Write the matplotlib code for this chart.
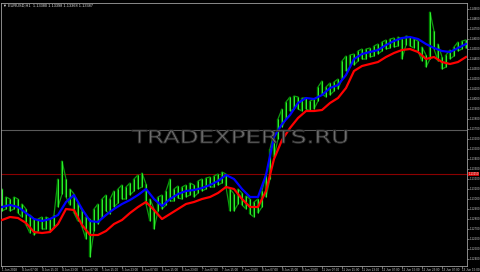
import numpy as np
import matplotlib
matplotlib.use('Agg')
from matplotlib import pyplot as plt
from matplotlib.textpath import TextPath
from matplotlib.font_manager import FontProperties
from matplotlib.patches import PathPatch
from matplotlib.transforms import Affine2D

'''Bar data (H1 bars, high / low)'''
high = [1.1310, 1.1302, 1.1300, 1.1302, 1.1300, 1.1295, 1.1290, 1.1284, 1.1280, 1.1280,
        1.1282, 1.1282, 1.1280, 1.1284, 1.1320, 1.1338, 1.1320, 1.1310, 1.1305, 1.1296,
        1.1288, 1.1282, 1.1280, 1.1290, 1.1295, 1.1300, 1.1304, 1.1300, 1.1308, 1.1310,
        1.1314, 1.1312, 1.1316, 1.1320, 1.1324, 1.1326, 1.1315, 1.1300, 1.1290, 1.1302,
        1.1304, 1.1308, 1.1320, 1.1310, 1.1313, 1.1312, 1.1314, 1.1316, 1.1314, 1.1318,
        1.1320, 1.1321, 1.1322, 1.1323, 1.1325, 1.1327, 1.1325, 1.1310, 1.1305, 1.1310,
        1.1306, 1.1303, 1.1300, 1.1297, 1.1300, 1.1308, 1.1325, 1.1350, 1.1367, 1.1380,
        1.1390, 1.1397, 1.1402, 1.1403, 1.1402, 1.1401, 1.1401, 1.1398, 1.1400, 1.1412,
        1.1418, 1.1412, 1.1416, 1.1417, 1.1420, 1.1438, 1.1443, 1.1444, 1.1445, 1.1448,
        1.1450, 1.1450, 1.1451, 1.1453, 1.1455, 1.1457, 1.1459, 1.1460, 1.1461, 1.1462,
        1.1460, 1.1463, 1.1462, 1.1460, 1.1458, 1.1452, 1.1444, 1.1487, 1.1468, 1.1455,
        1.1442, 1.1444, 1.1449, 1.1452, 1.1457, 1.1458, 1.1459]
low = [1.1288, 1.1290, 1.1288, 1.1290, 1.1286, 1.1282, 1.1274, 1.1266, 1.1264, 1.1268,
       1.1270, 1.1270, 1.1267, 1.1272, 1.1292, 1.1305, 1.1302, 1.1294, 1.1286, 1.1278,
       1.1272, 1.1260, 1.1242, 1.1268, 1.1275, 1.1282, 1.1288, 1.1285, 1.1292, 1.1296,
       1.1300, 1.1300, 1.1304, 1.1308, 1.1310, 1.1312, 1.1295, 1.1278, 1.1270, 1.1288,
       1.1290, 1.1294, 1.1298, 1.1298, 1.1301, 1.1300, 1.1302, 1.1304, 1.1302, 1.1306,
       1.1308, 1.1310, 1.1312, 1.1312, 1.1314, 1.1316, 1.1312, 1.1288, 1.1288, 1.1295,
       1.1294, 1.1290, 1.1285, 1.1282, 1.1286, 1.1292, 1.1302, 1.1320, 1.1342, 1.1360,
       1.1372, 1.1380, 1.1388, 1.1390, 1.1390, 1.1388, 1.1390, 1.1388, 1.1390, 1.1398,
       1.1405, 1.1402, 1.1404, 1.1408, 1.1410, 1.1420, 1.1428, 1.1432, 1.1434, 1.1438,
       1.1440, 1.1440, 1.1442, 1.1443, 1.1445, 1.1448, 1.1450, 1.1451, 1.1452, 1.1453,
       1.1440, 1.1454, 1.1453, 1.1451, 1.1448, 1.1438, 1.1432, 1.1440, 1.1450, 1.1438,
       1.1430, 1.1432, 1.1440, 1.1443, 1.1448, 1.1450, 1.1451]

'''Moving averages, read every 2nd bar'''
ma_fast = [1.1292, 1.1294, 1.1292, 1.1286, 1.1280, 1.1278, 1.1280, 1.1284, 1.1297, 1.1304,
           1.1290, 1.1278, 1.1277, 1.1284, 1.1290, 1.1295, 1.1299, 1.1304, 1.1310, 1.1300,
           1.1293, 1.1300, 1.1305, 1.1308, 1.1309, 1.1311, 1.1314, 1.1318, 1.1324, 1.1320,
           1.1310, 1.1302, 1.1302, 1.1324, 1.1362, 1.1375, 1.1384, 1.1396, 1.1401, 1.1400,
           1.1404, 1.1411, 1.1414, 1.1424, 1.1440, 1.1445, 1.1447, 1.1449, 1.1454, 1.1458,
           1.1461, 1.1462, 1.1460, 1.1455, 1.1451, 1.1448, 1.1447, 1.1451, 1.1455]
ma_slow = [1.1279, 1.1282, 1.1281, 1.1276, 1.1267, 1.1266, 1.1267, 1.1275, 1.1290, 1.1289,
           1.1274, 1.1264, 1.1264, 1.1268, 1.1275, 1.1279, 1.1286, 1.1292, 1.1297, 1.1289,
           1.1280, 1.1285, 1.1290, 1.1295, 1.1297, 1.1300, 1.1302, 1.1306, 1.1312, 1.1310,
           1.1300, 1.1292, 1.1292, 1.1308, 1.1340, 1.1359, 1.1371, 1.1381, 1.1388, 1.1388,
           1.1389, 1.1396, 1.1401, 1.1411, 1.1428, 1.1433, 1.1435, 1.1437, 1.1442, 1.1446,
           1.1449, 1.1450, 1.1447, 1.1440, 1.1442, 1.1437, 1.1435, 1.1437, 1.1442]

gray_level = 1.1369
red_level = 1.1325

price_ticks = [1.1240, 1.1250, 1.1260, 1.1270, 1.1280, 1.1290, 1.1300, 1.1310, 1.1320,
               1.1330, 1.1340, 1.1350, 1.1360, 1.1370, 1.1380, 1.1390, 1.1400, 1.1410,
               1.1420, 1.1430, 1.1440, 1.1450, 1.1460, 1.1470, 1.1480, 1.1490]
time_labels = ['1 Jun 2018', '4 Jun 07:00', '4 Jun 15:00', '4 Jun 23:00', '5 Jun 07:00',
               '5 Jun 15:00', '5 Jun 23:00', '6 Jun 07:00', '6 Jun 15:00', '6 Jun 23:00',
               '7 Jun 07:00', '7 Jun 15:00', '7 Jun 23:00', '8 Jun 07:00', '8 Jun 15:00',
               '8 Jun 23:00', '11 Jun 07:00', '11 Jun 15:00', '11 Jun 23:00', '12 Jun 07:00',
               '12 Jun 15:00', '12 Jun 23:00', '13 Jun 07:00', '13 Jun 15:00']
header = 'EURUSD,H1  1.13380 1.13398 1.13368 1.13387'
watermark = 'TRADEXPERTS.RU'

plt.rcParams['font.family'] = ['Liberation Sans', 'DejaVu Sans']

W, H = 480, 272
fig = plt.figure(figsize=(W/100, H/100), dpi=100, facecolor='black')
ax = fig.add_axes([1/W, 6/H, 466/W, 263/H])
ax.set_facecolor('black')

bars = np.arange(len(high))
# zigzag through the bar extremes gives the dense MT4 look
zz_x = np.repeat(bars, 2)
zz_y = np.ravel(np.column_stack([high, low]))
zz_y[2::4], zz_y[3::4] = np.array(low)[1::2], np.array(high)[1::2]
ax.plot(zz_x, zz_y, color='#0f9a0f', linewidth=0.9, zorder=2)
ax.vlines(bars, low, high, color='#008800', linewidth=1.7, zorder=2)
ax.vlines(bars, low, high, color='#39ff39', linewidth=0.6, zorder=3)

ma_x = bars[::2]
ax.plot(ma_x, ma_fast, color='#0000ff', linewidth=1.6, zorder=4)
ax.plot(ma_x, ma_slow, color='#ff0000', linewidth=1.6, zorder=4)

ax.axhline(gray_level, color='#5a5a5a', linewidth=0.8, zorder=1)
ax.axhline(red_level, color='#8b0000', linewidth=0.8, zorder=1)

ax.set_xlim(-0.25, 116.25)
ax.set_ylim(1.1233, 1.1496)

for s in ax.spines.values():
    s.set_color('#a0a0a0')
    s.set_linewidth(0.6)

ax.yaxis.tick_right()
ax.set_yticks(price_ticks)
ax.set_yticklabels(['%.5f' % p for p in price_ticks])
ax.tick_params(axis='y', colors='#a0a0a0', labelcolor='#d0d0d0', labelsize=2.1,
               length=1.5, width=0.5, pad=0.2)

ax.set_xticks(np.arange(0, 5*len(time_labels), 5))
ax.set_xticklabels(time_labels, ha='left')
ax.tick_params(axis='x', colors='#a0a0a0', labelcolor='#d0d0d0', labelsize=2.2,
               length=1.5, width=0.5, pad=0.2)

# price marker for the red level
ax.text(1.003, red_level, '%.5f' % red_level, transform=ax.get_yaxis_transform(),
        fontsize=2.1, color='white', va='center', ha='left',
        bbox=dict(boxstyle='square,pad=0.15', fc='#cc0000', ec='none'))

fig.text(3/W, 1 - 6/H, u'\u25bc ' + header, color='#e0e0e0', fontsize=2.8,
         va='center', ha='left')

# stretched watermark
fp = FontProperties(family='DejaVu Sans')
tp = TextPath((0, 0), watermark, size=20, prop=fp)
ext = tp.get_extents()
cap = TextPath((0, 0), 'T', size=20, prop=fp).get_extents().height
sx = 215 / ext.width
sy = 13 / cap
tr = Affine2D().translate(-ext.x0, 0).scale(sx, sy).translate(132, H - 143)
fig.add_artist(PathPatch(tp, transform=tr, facecolor='#6c6c6c', edgecolor='#2a2a2a',
                         linewidth=0.6, zorder=10))

fig.savefig('out.png', dpi=100, facecolor='black')
